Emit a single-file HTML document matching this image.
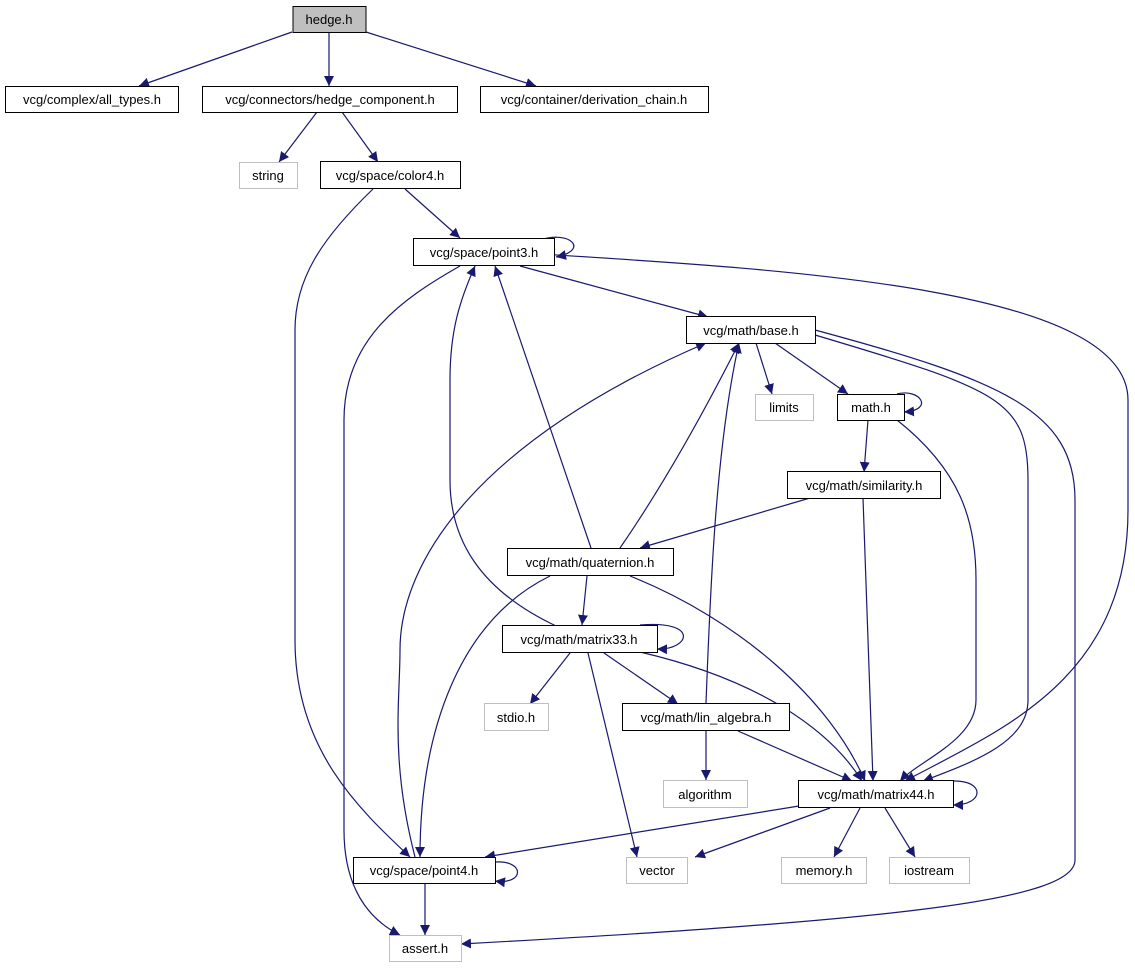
<!DOCTYPE html>
<html><head><meta charset="utf-8"><style>body{margin:0;background:#fff}svg{display:block}text{font-family:"Liberation Sans","DejaVu Sans",sans-serif;font-size:13px;text-anchor:middle}</style></head><body>
<svg width="1135" height="968" viewBox="0 0 1135 968" xmlns="http://www.w3.org/2000/svg">
<defs><marker id="a" viewBox="0 0 10 10" refX="10" refY="5" markerWidth="10" markerHeight="10" markerUnits="userSpaceOnUse" orient="auto"><path d="M0,0 L10,5 L0,10 z" fill="#191970"/></marker></defs>
<g fill="none" stroke="#191970" stroke-width="1.2" marker-end="url(#a)">
<path d="M292,32 L139,86"/>
<path d="M329,33 L329,86"/>
<path d="M366,32 L536,86"/>
<path d="M317,112 L279,162"/>
<path d="M342,112 L378,162"/>
<path d="M405,189 L460,238"/>
<path d="M373,189 C320,240 295,280 295,330 L295,640 C295,750 360,810 410,857"/>
<path d="M540,240 C570,230 590,250 556,257"/>
<path d="M520,266 L708,317"/>
<path d="M460,266 C400,300 344,340 344,420 L344,830 C344,900 380,925 400,935"/>
<path d="M540,254 C800,270 1128,290 1128,400 L1128,510 C1128,680 1000,730 905,781"/>
<path d="M756,343 L772,394"/>
<path d="M775,343 L848,394"/>
<path d="M815,335 C1000,390 1028,400 1028,480 L1028,700 C1028,740 980,760 923,781"/>
<path d="M815,330 C1000,380 1075,410 1075,500 L1075,860 C1075,900 900,920 461,944"/>
<path d="M897,394 C920,388 935,410 904,412"/>
<path d="M868,420 L864,472"/>
<path d="M897,420 C960,470 976,520 976,580 L976,700 C976,740 920,760 900,781"/>
<path d="M810,498 L640,548"/>
<path d="M863,498 L873,781"/>
<path d="M591,548 L495,266"/>
<path d="M620,548 C660,490 700,420 739,343"/>
<path d="M550,576 C460,620 420,730 420,857"/>
<path d="M587,576 L582,625"/>
<path d="M630,576 C740,620 830,700 865,781"/>
<path d="M556,626 C480,590 450,540 450,480 L450,380 C450,330 460,300 475,266"/>
<path d="M640,625 C700,620 690,650 657,649"/>
<path d="M570,653 L530,704"/>
<path d="M588,653 L637,857"/>
<path d="M604,653 L678,704"/>
<path d="M640,652 C760,680 830,730 862,781"/>
<path d="M706,703 C710,600 715,450 739,343"/>
<path d="M706,731 L706,780"/>
<path d="M738,731 L852,781"/>
<path d="M415,857 C390,760 400,700 400,650 C400,560 480,440 706,343"/>
<path d="M799,806 L485,857"/>
<path d="M830,808 L695,857"/>
<path d="M860,808 L834,857"/>
<path d="M885,808 L915,857"/>
<path d="M953,781 C985,780 985,805 953,805"/>
<path d="M495,862 C525,860 525,885 495,881"/>
<path d="M425,883 L425,935"/>
</g>
<g stroke-width="1">
<rect x="293" y="6.5" width="73" height="26" fill="#bfbfbf" stroke="#000"/><text x="329" y="24">hedge.h</text>
<rect x="5.5" y="86.5" width="173" height="26" fill="#fff" stroke="#000"/><text x="92" y="104">vcg/complex/all_types.h</text>
<rect x="202.5" y="86.5" width="255" height="26" fill="#fff" stroke="#000"/><text x="330" y="104">vcg/connectors/hedge_component.h</text>
<rect x="480.5" y="86.5" width="228" height="26" fill="#fff" stroke="#000"/><text x="594" y="104">vcg/container/derivation_chain.h</text>
<rect x="239.5" y="162.5" width="58" height="26" fill="#fff" stroke="#bfbfbf"/><text x="268" y="180">string</text>
<rect x="320.5" y="161.5" width="140" height="27" fill="#fff" stroke="#000"/><text x="390" y="180">vcg/space/color4.h</text>
<rect x="413.5" y="238.5" width="141" height="27" fill="#fff" stroke="#000"/><text x="484" y="257">vcg/space/point3.h</text>
<rect x="686.5" y="316.5" width="129" height="27" fill="#fff" stroke="#000"/><text x="751" y="335">vcg/math/base.h</text>
<rect x="755.5" y="394.5" width="58" height="26" fill="#fff" stroke="#bfbfbf"/><text x="784" y="412">limits</text>
<rect x="837.5" y="394.5" width="67" height="26" fill="#fff" stroke="#000"/><text x="871" y="412">math.h</text>
<rect x="787.5" y="471.5" width="153" height="27" fill="#fff" stroke="#000"/><text x="864" y="490">vcg/math/similarity.h</text>
<rect x="507.5" y="548.5" width="166" height="27" fill="#fff" stroke="#000"/><text x="590" y="567">vcg/math/quaternion.h</text>
<rect x="502.5" y="625.5" width="155" height="27" fill="#fff" stroke="#000"/><text x="579" y="644">vcg/math/matrix33.h</text>
<rect x="484.5" y="703.5" width="64" height="27" fill="#fff" stroke="#bfbfbf"/><text x="516" y="722">stdio.h</text>
<rect x="622.5" y="703.5" width="167" height="27" fill="#fff" stroke="#000"/><text x="706" y="722">vcg/math/lin_algebra.h</text>
<rect x="663.5" y="780.5" width="84" height="27" fill="#fff" stroke="#bfbfbf"/><text x="705" y="799">algorithm</text>
<rect x="798.5" y="780.5" width="155" height="27" fill="#fff" stroke="#000"/><text x="876" y="799">vcg/math/matrix44.h</text>
<rect x="353.5" y="857.5" width="142" height="26" fill="#fff" stroke="#000"/><text x="424" y="875">vcg/space/point4.h</text>
<rect x="626.5" y="857.5" width="61" height="26" fill="#fff" stroke="#bfbfbf"/><text x="657" y="875">vector</text>
<rect x="781.5" y="857.5" width="85" height="26" fill="#fff" stroke="#bfbfbf"/><text x="824" y="875">memory.h</text>
<rect x="889.5" y="857.5" width="80" height="26" fill="#fff" stroke="#bfbfbf"/><text x="929" y="875">iostream</text>
<rect x="389.5" y="935.5" width="72" height="26" fill="#fff" stroke="#bfbfbf"/><text x="425" y="953">assert.h</text>
</g>
</svg>
</body></html>
